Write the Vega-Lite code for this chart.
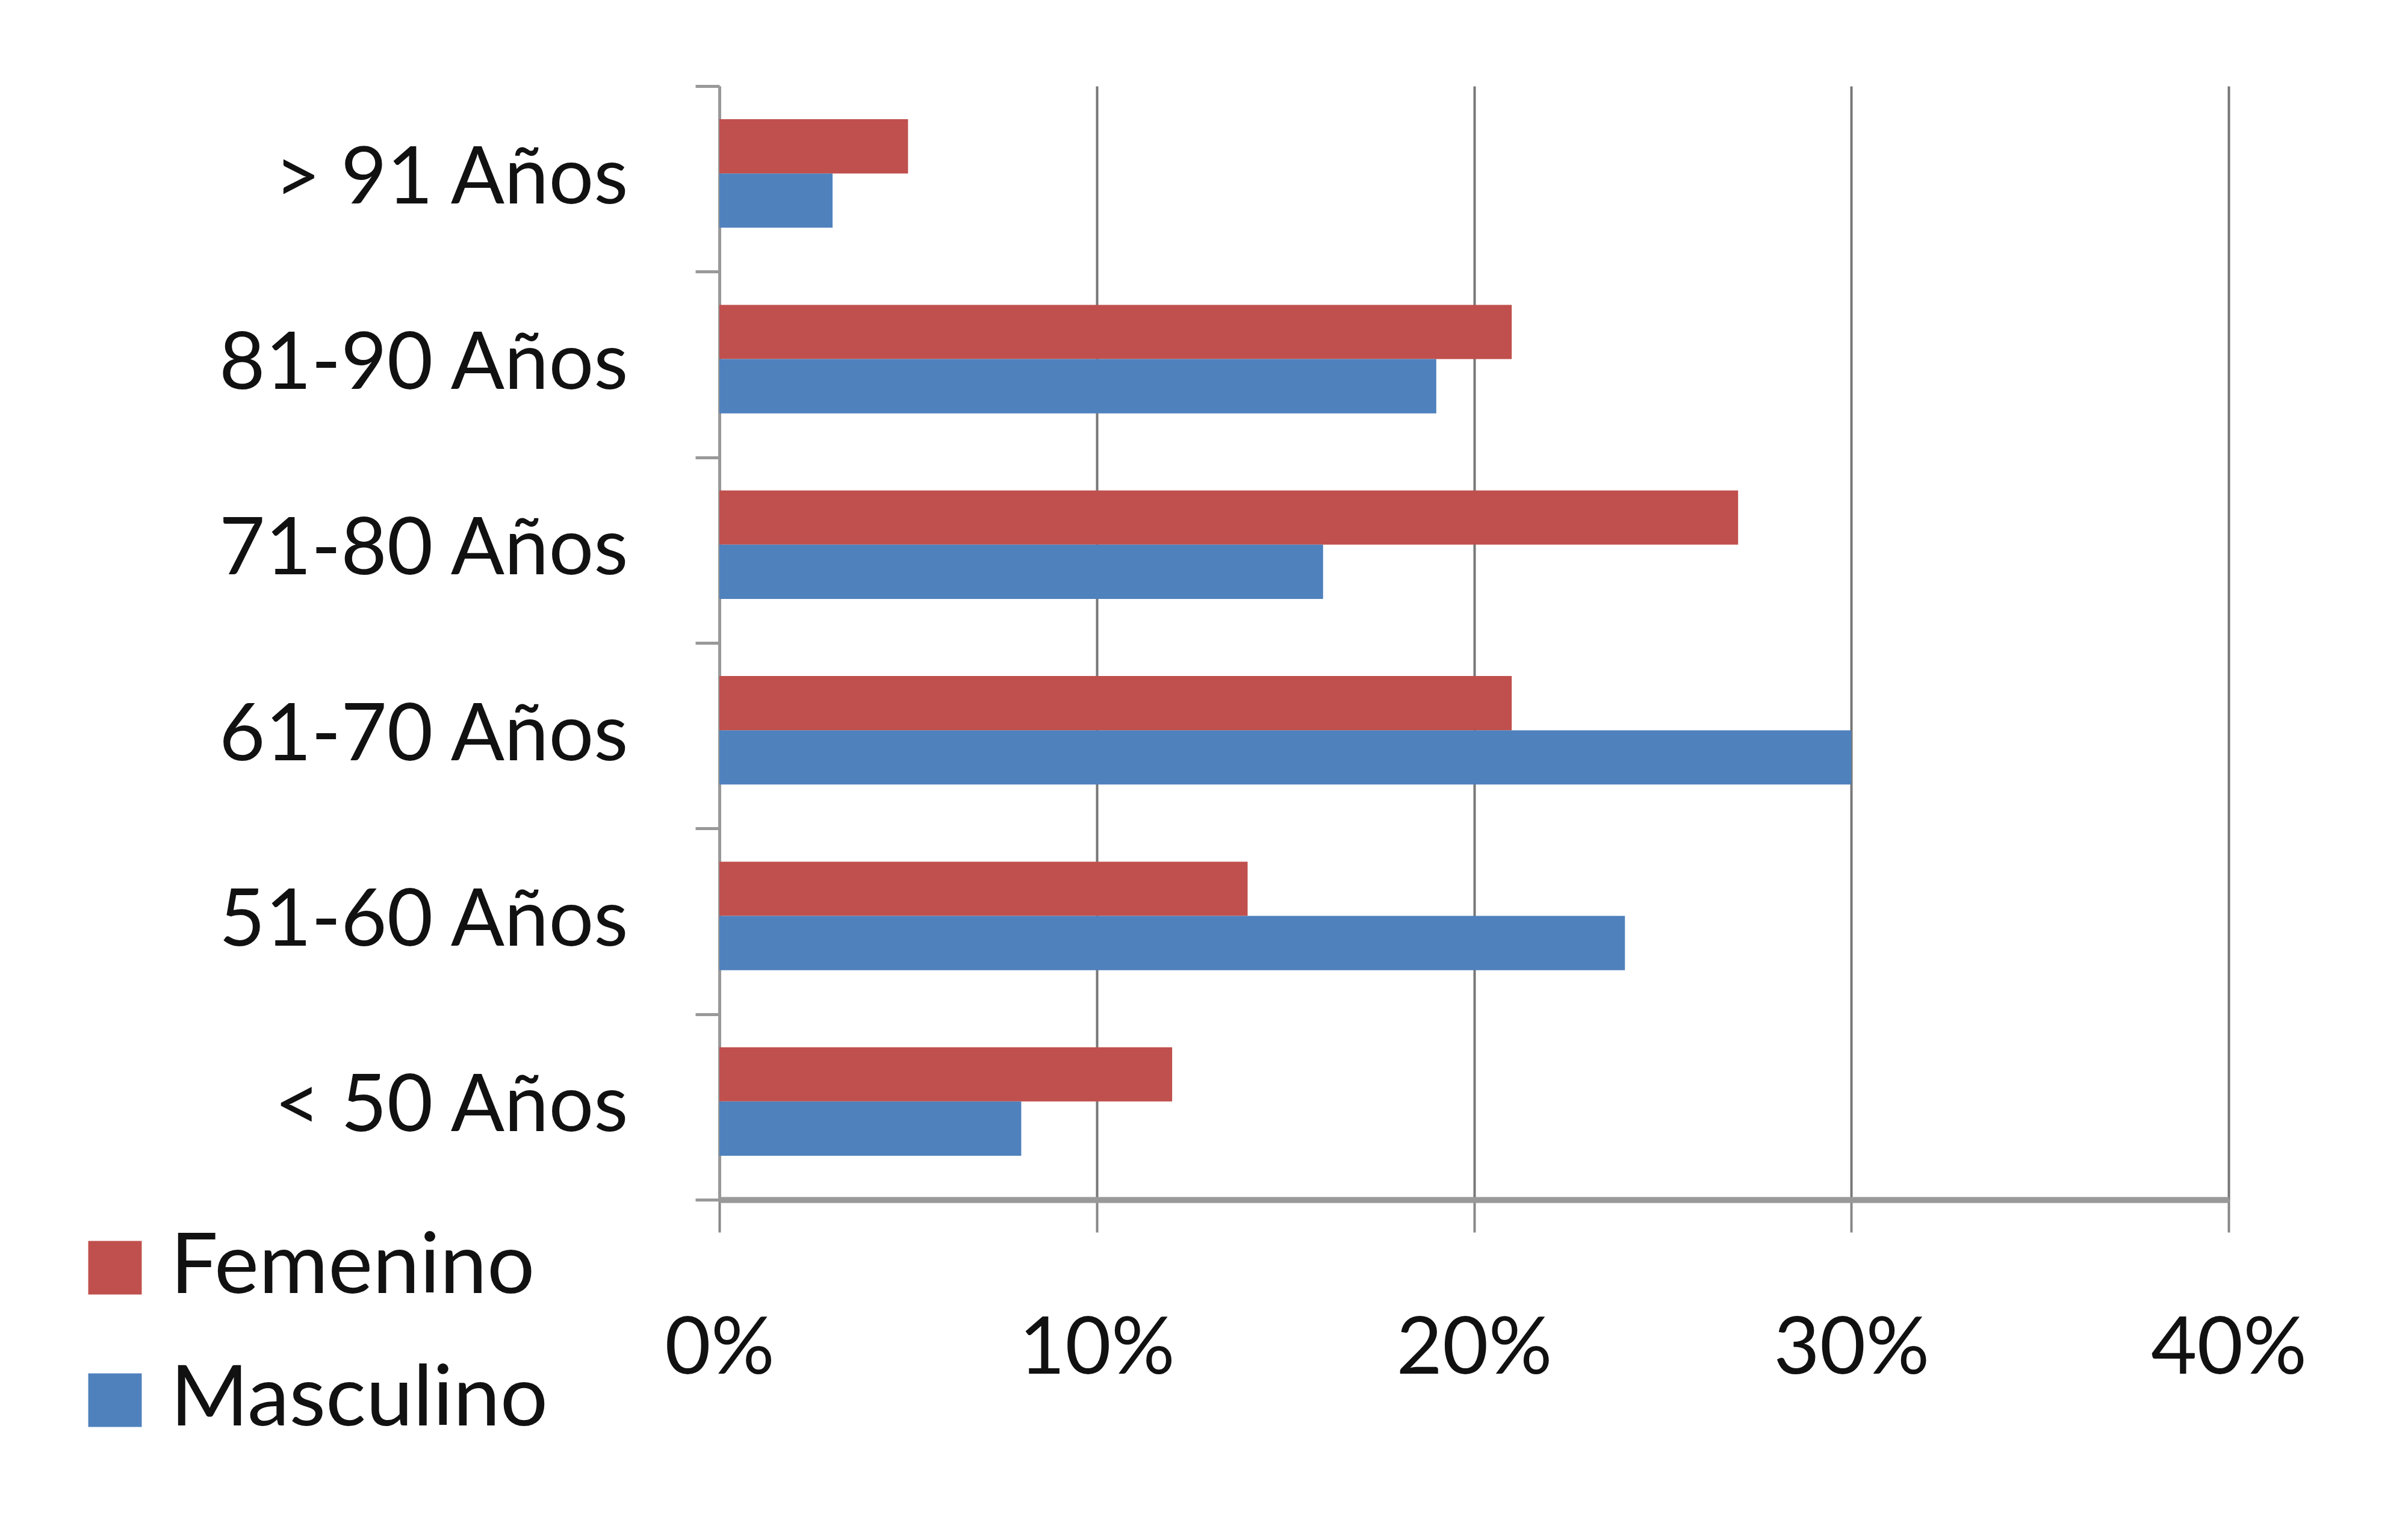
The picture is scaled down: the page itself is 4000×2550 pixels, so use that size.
{
  "$schema": "https://vega.github.io/schema/vega-lite/v6.json",
  "width": 2507,
  "height": 1850,
  "autosize": {"type": "none"},
  "padding": {"left": 1195, "top": 143, "right": 298, "bottom": 557},
  "background": "white",
  "data": {
    "values": [
      {"edad": "> 91 Años", "sexo": "Femenino", "pct": 0.05},
      {"edad": "> 91 Años", "sexo": "Masculino", "pct": 0.03},
      {"edad": "81-90 Años", "sexo": "Femenino", "pct": 0.21},
      {"edad": "81-90 Años", "sexo": "Masculino", "pct": 0.19},
      {"edad": "71-80 Años", "sexo": "Femenino", "pct": 0.27},
      {"edad": "71-80 Años", "sexo": "Masculino", "pct": 0.16},
      {"edad": "61-70 Años", "sexo": "Femenino", "pct": 0.21},
      {"edad": "61-70 Años", "sexo": "Masculino", "pct": 0.30},
      {"edad": "51-60 Años", "sexo": "Femenino", "pct": 0.14},
      {"edad": "51-60 Años", "sexo": "Masculino", "pct": 0.24},
      {"edad": "< 50 Años", "sexo": "Femenino", "pct": 0.12},
      {"edad": "< 50 Años", "sexo": "Masculino", "pct": 0.08}
    ]
  },
  "mark": {"type": "bar"},
  "encoding": {
    "y": {
      "field": "edad",
      "type": "nominal",
      "sort": ["> 91 Años", "81-90 Años", "71-80 Años", "61-70 Años", "51-60 Años", "< 50 Años"],
      "scale": {"paddingInner": 0, "paddingOuter": 0},
      "axis": {
        "title": null,
        "tickBand": "extent",
        "tickSize": 40,
        "tickWidth": 5,
        "tickColor": "#999999",
        "domainColor": "#999999",
        "domainWidth": 5,
        "labelFont": "Lato",
        "labelFontSize": 132,
        "labelColor": "#111111",
        "labelPadding": 112,
        "labelLimit": 2000,
        "grid": false
      }
    },
    "yOffset": {
      "field": "sexo",
      "type": "nominal",
      "sort": ["Femenino", "Masculino"],
      "scale": {"paddingInner": 0, "paddingOuter": 0.71, "align": 0.43}
    },
    "x": {
      "field": "pct",
      "type": "quantitative",
      "scale": {"domain": [0, 0.4]},
      "axis": {
        "title": null,
        "values": [0, 0.1, 0.2, 0.3, 0.4],
        "format": ".0%",
        "grid": true,
        "gridColor": "#777777",
        "gridWidth": 4,
        "tickSize": 54,
        "tickWidth": 4,
        "tickColor": "#888888",
        "domainColor": "#999999",
        "domainWidth": 10,
        "labelFont": "Lato",
        "labelFontSize": 132,
        "labelColor": "#111111",
        "labelPadding": 130,
        "labelDx": 12,
        "labelFlush": false,
        "labelLimit": 2000
      }
    },
    "color": {
      "field": "sexo",
      "type": "nominal",
      "sort": ["Femenino", "Masculino"],
      "scale": {"domain": ["Femenino", "Masculino"], "range": ["#C0504D", "#4F81BD"]},
      "legend": {
        "title": null,
        "orient": "none",
        "legendX": -1074,
        "legendY": 1893,
        "symbolType": "square",
        "symbolSize": 7900,
        "symbolStrokeWidth": 0,
        "labelFont": "Lato",
        "labelFontSize": 140,
        "labelColor": "#111111",
        "labelOffset": 22,
        "labelLimit": 2000,
        "rowPadding": 80,
        "padding": 0
      }
    }
  },
  "config": {
    "view": {"stroke": null}
  }
}
